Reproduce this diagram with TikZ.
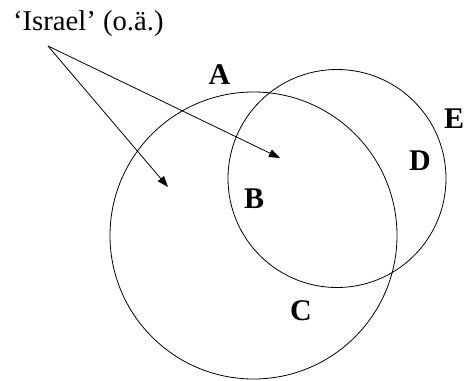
\documentclass[tikz,border=0pt]{standalone}
\usepackage{fontspec}
\setmainfont{Liberation Serif}
\usetikzlibrary{arrows.meta}
\begin{document}
\begin{tikzpicture}[x=1pt,y=-1pt,
  ring/.style={circle,draw,line width=0.8pt,inner sep=0pt},
  letter/.style={font=\fontsize{30}{30}\selectfont\bfseries,inner sep=0pt,anchor=center},
  pointer/.style={line width=0.8pt,-{Triangle[length=11pt,width=8pt]}}]
\useasboundingbox (0,0) rectangle (465,380);
\node[ring,minimum size=287pt] (big) at (253.5,235.5) {};
\node[ring,minimum size=218pt] (small) at (337,178.5) {};
\node[font=\fontsize{28.7}{28.7}\selectfont,inner sep=0pt,anchor=base] (lab) at (88.3,30.7) {‘Israel’ (o.ä.)};
\coordinate (src) at (48,46);
\coordinate (t1) at (168,187);
\coordinate (t2) at (280,158);
\draw[pointer] (src) -- (t1);
\draw[pointer] (src) -- (t2);
\node[letter] (A) at (219.5,74.3) {A};
\node[letter] (B) at (254,198.3) {B};
\node[letter] (C) at (301,311) {C};
\node[letter] (D) at (420,160.5) {D};
\node[letter] (E) at (454,118.7) {E};
\end{tikzpicture}
\end{document}
